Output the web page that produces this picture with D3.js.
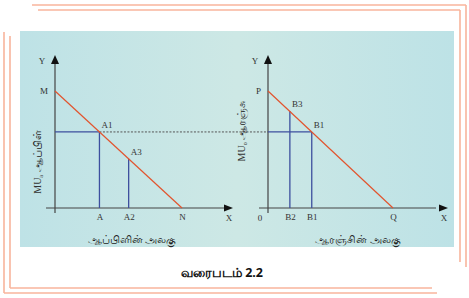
<!DOCTYPE html>
<html>
<head>
<meta charset="utf-8">
<script src="https://cdn.jsdelivr.net/npm/d3@7"></script>
<style>
  html, body { margin: 0; padding: 0; background: #fff; }
  svg { display: block; }
  .lbl { font-family: "Liberation Serif", "DejaVu Serif", serif; font-size: 9px; fill: #333; }
  .tam { font-family: "Noto Sans", "Liberation Sans", sans-serif; font-size: 10.5px; fill: #222; }
</style>
</head>
<body>
<svg id="chart" width="469" height="298"></svg>
<script>
// Data (quantities on x, marginal utility on y; both read in 0-10 units)
const leftCurve = [{q: 0, mu: 10, name: "M"}, {q: 10, mu: 0, name: "N"}];
const leftPoints = [
  {name: "A1", q: 3.5, mu: 6.5, tick: "A"},
  {name: "A3", q: 5.8, mu: 4.2, tick: "A2"}
];
const rightCurve = [{q: 0, mu: 10, name: "P"}, {q: 10, mu: 0, name: "Q"}];
const rightPoints = [
  {name: "B1", q: 3.5, mu: 6.5, tick: "B1"},
  {name: "B3", q: 1.75, mu: 8.3, tick: "B2"}
];
const xTitles = ["ஆப்பிளின் அலகு", "ஆரஞ்சின் அலகு"];
const yTitles = [["MU", "a", " ஆப்பிள்"], ["MU", "o", " ஆரஞ்சு"]];
const caption = "வரைபடம் 2.2";

const svg = d3.select("#chart");
const border = "#f8b49c";
const redLine = "#e2542e";
const blueLine = "#3d4f9e";
const axisCol = "#444";

// Background gradient for the figure panel
const defs = svg.append("defs");
const grad = defs.append("linearGradient").attr("id", "bg");
grad.append("stop").attr("offset", "0%").attr("stop-color", "#bee2e6");
grad.append("stop").attr("offset", "50%").attr("stop-color", "#cde8e5");
grad.append("stop").attr("offset", "100%").attr("stop-color", "#bde2e6");

svg.append("rect")
  .attr("x", 20).attr("y", 31)
  .attr("width", 434).attr("height", 216)
  .attr("fill", "url(#bg)");

// Page frame lines
const frame = [
  [32, 5, 466, 5], [38, 10, 460, 10],
  [466, 5, 466, 267], [460, 10, 460, 262],
  [4, 32, 4, 293], [10, 36, 10, 288],
  [4, 293, 437, 293], [10, 288, 432, 288]
];
svg.selectAll("line.frame").data(frame).join("line")
  .attr("class", "frame")
  .attr("x1", d => d[0]).attr("y1", d => d[1])
  .attr("x2", d => d[2]).attr("y2", d => d[3])
  .attr("stroke", border).attr("stroke-width", 1.6);

// Panel layout
const panels = [
  {x0: 55, xEnd: 182, curve: leftCurve, points: leftPoints, zero: false, title: 0},
  {x0: 268, xEnd: 393, curve: rightCurve, points: rightPoints, zero: true, title: 1}
];
const yBase = 208, yTop = 91;

panels.forEach(p => {
  p.x = d3.scaleLinear().domain([0, 10]).range([p.x0, p.xEnd]);
  p.y = d3.scaleLinear().domain([0, 10]).range([yBase, yTop]);
});

// Dashed link between A1 and the right y axis
svg.append("line")
  .attr("x1", panels[0].x(leftPoints[0].q)).attr("y1", panels[0].y(leftPoints[0].mu))
  .attr("x2", panels[1].x(0)).attr("y2", panels[0].y(leftPoints[0].mu))
  .attr("stroke", "#555").attr("stroke-width", 1)
  .attr("stroke-dasharray", "2,1.5");

panels.forEach((p, i) => {
  const g = svg.append("g");
  const ox = p.x(0), oy = p.y(0);

  // axes lines
  g.append("line").attr("x1", ox).attr("y1", oy + 5).attr("x2", ox).attr("y2", 62)
    .attr("stroke", axisCol).attr("stroke-width", 1.2);
  g.append("line").attr("x1", ox - 9).attr("y1", oy).attr("x2", p.x(10) + 43).attr("y2", oy)
    .attr("stroke", axisCol).attr("stroke-width", 1.2);
  // arrowheads
  g.append("path")
    .attr("d", `M${ox},55 L${ox - 4},64 L${ox + 4},64 Z`).attr("fill", "#111");
  const ax = i === 0 ? 233 : 448;
  g.append("path")
    .attr("d", `M${ax},${oy} L${ax - 9},${oy - 3.5} L${ax - 9},${oy + 3.5} Z`).attr("fill", "#111");
  g.append("text").attr("class", "lbl").attr("x", ox - 13).attr("y", 64).attr("text-anchor", "middle").text("Y");
  g.append("text").attr("class", "lbl").attr("x", ax - 4).attr("y", 221).attr("text-anchor", "middle").text("X");

  // blue drop lines
  p.points.forEach(d => {
    g.append("line")
      .attr("x1", p.x(d.q)).attr("y1", p.y(d.mu))
      .attr("x2", p.x(d.q)).attr("y2", oy)
      .attr("stroke", blueLine).attr("stroke-width", 1.3);
  });
  // horizontal blue line to first point
  const first = p.points[0];
  g.append("line")
    .attr("x1", ox).attr("y1", p.y(first.mu))
    .attr("x2", p.x(first.q)).attr("y2", p.y(first.mu))
    .attr("stroke", blueLine).attr("stroke-width", 1.3);

  // MU curve
  g.append("path")
    .datum(p.curve)
    .attr("d", d3.line().x(d => p.x(d.q)).y(d => p.y(d.mu)))
    .attr("fill", "none").attr("stroke", redLine).attr("stroke-width", 1.2);

  // curve start label
  g.append("text").attr("class", "lbl")
    .attr("x", ox - 7).attr("y", p.y(p.curve[0].mu) + 3).attr("text-anchor", "end")
    .text(p.curve[0].name);

  // point labels
  p.points.forEach(d => {
    g.append("text").attr("class", "lbl")
      .attr("x", p.x(d.q) + 2).attr("y", p.y(d.mu) - 4)
      .text(d.name);
  });

  // x tick labels via axis
  const ticks = p.points.map(d => d.q).concat([p.curve[1].q]);
  const names = p.points.map(d => d.tick).concat([p.curve[1].name]);
  const axis = d3.axisBottom(p.x).tickValues(ticks).tickSize(0).tickPadding(6)
    .tickFormat((d, k) => names[k]);
  const ag = g.append("g").attr("transform", `translate(0,${oy})`).call(axis);
  ag.select(".domain").remove();
  ag.selectAll("text").attr("class", "lbl").attr("font-size", null).attr("font-family", null).attr("fill", null);

  if (p.zero) {
    g.append("text").attr("class", "lbl").attr("x", ox - 8).attr("y", 221).attr("text-anchor", "middle").text("0");
  }

  // axis titles
  g.append("text").attr("class", "tam")
    .attr("x", i === 0 ? 132 : 358).attr("y", 243).attr("text-anchor", "middle")
    .text(xTitles[p.title]);

  const yt = yTitles[p.title];
  const ty = g.append("text").attr("class", "lbl")
    .attr("transform", `translate(${i === 0 ? 41 : 245},${i === 0 ? 162 : 131}) rotate(-90)`)
    .attr("text-anchor", "middle");
  ty.append("tspan").attr("font-size", "10px").text(yt[0]);
  ty.append("tspan").attr("font-size", "6px").attr("dy", 2).text(yt[1]);
  ty.append("tspan").attr("class", "tam").attr("font-size", "8.5px").attr("dy", -2).text(yt[2]);
});

// Caption
svg.append("text")
  .attr("x", 222).attr("y", 277).attr("text-anchor", "middle")
  .attr("font-family", "'Noto Sans', 'Liberation Sans', sans-serif")
  .attr("font-weight", "bold").attr("font-size", "12.5px").attr("fill", "#111")
  .text(caption);
</script>
</body>
</html>
